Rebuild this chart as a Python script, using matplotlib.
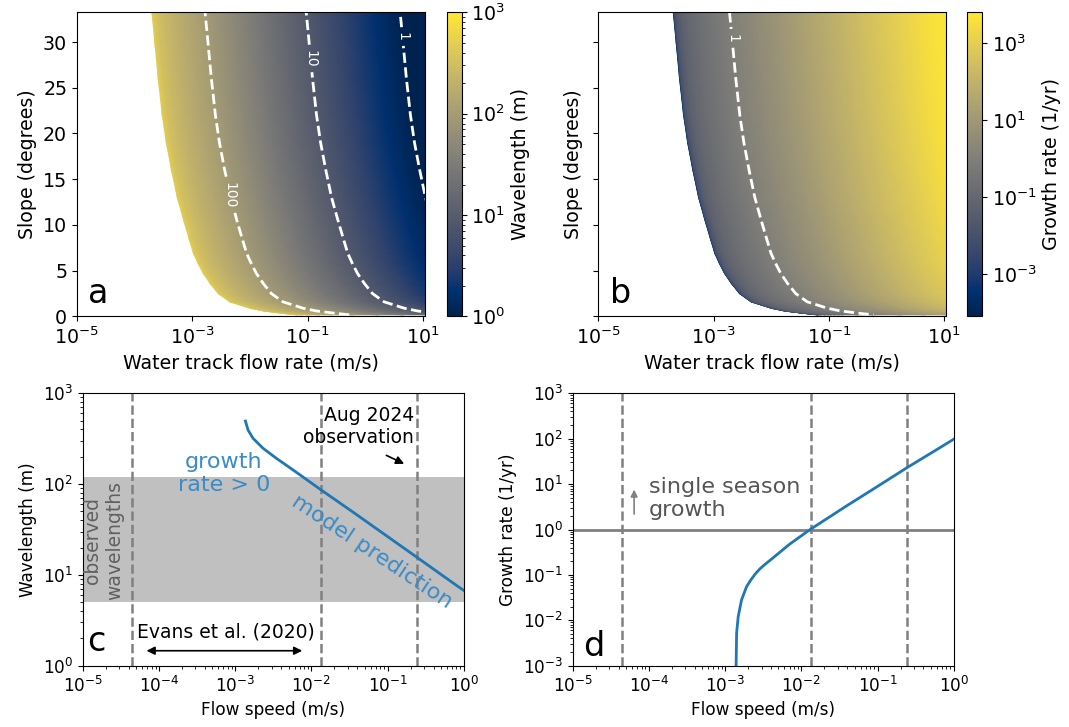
import numpy as np
import matplotlib
matplotlib.use('Agg')
import matplotlib.pyplot as plt
from matplotlib.colors import LogNorm
from matplotlib.ticker import NullLocator

# Values
#._____________________

# onset of the instability (left edge of coloured area in a/b)
slope_rows = [0.18, 0.35, 0.6, 0.9, 1.6, 2.5, 3.6, 4.7, 5.8, 6.9, 8.4, 10.5,
              13.0, 16.0, 19.0, 22.0, 26.0, 30.0, 33.25]
onset_flow = [6.3e-2, 3.55e-2, 1.70e-2, 1.0e-2, 4.47e-3, 2.82e-3, 2.04e-3, 1.55e-3,
              1.26e-3, 1.05e-3, 8.9e-4, 7.1e-4, 5.5e-4, 4.37e-4, 3.55e-4, 3.02e-4,
              2.57e-4, 2.24e-4, 2.0e-4]

# panel c : wavelength vs flow speed
wl_flow = [1.361e-3, 1.472e-3, 1.714e-3, 2.317e-3, 3.475e-3, 5.754e-3, 1.288e-2,
           3.532e-2, 9.705e-2, 0.2655, 0.847, 1.0]
wl_value = [495, 394, 319, 248, 192, 143, 88.3, 49.0, 26.9, 14.8, 7.41, 6.75]

# panel d : growth rate vs flow speed
gr_flow = [1.380e-3, 1.413e-3, 1.483e-3, 1.641e-3, 1.910e-3, 2.173e-3, 2.455e-3,
           2.851e-3, 3.319e-3, 3.864e-3, 7.063e-3, 1.303e-2, 3.917e-2, 0.1,
           0.2472, 0.6546, 1.0]
gr_value = [4e-4, 5.25e-3, 1.21e-2, 2.82e-2, 5.53e-2, 7.76e-2, 0.1026, 0.1355,
            0.1702, 0.2084, 0.4797, 1.0, 3.31, 8.91, 23.4, 63.1, 97.7]

# same slope, beyond x=1 (from the colours at the right of a/b)
ext_flow = [3.0, 10.0, 30.0, 80.0]
wl_ext = [3.5, 1.7, 0.89, 0.49]
gr_ext = [300., 1000., 3000., 8000.]

obs_flow = [4.4e-5, 1.33e-2, 0.245]   # dashed lines
obs_wavelength = [5, 120]             # grey band

# Fields for a/b : profile shifted to each row's onset
#._____________________

def field(flow, value, ext_value):
    ratio = np.r_[flow, ext_flow] / flow[0]
    X = np.outer(onset_flow, ratio)
    Y = np.repeat(np.array(slope_rows)[:, None], len(ratio), axis=1)
    C = np.tile(np.r_[value, ext_value], (len(slope_rows), 1))
    return X, Y, C

Xa, Ya, Ca = field(wl_flow, wl_value, wl_ext)
Xb, Yb, Cb = field(gr_flow, gr_value, gr_ext)

# PLOT
#._____________________
plt.rcParams['font.size'] = 12.2
fs_top = 13.7
blue_txt = '#3a8bc6'

fig = plt.figure(figsize=(10.69, 7.27), dpi=100)
ax_a = fig.add_axes([0.0719, 0.5647, 0.3256, 0.4184])
cax_a = fig.add_axes([0.4179, 0.5647, 0.0140, 0.4184])
ax_b = fig.add_axes([0.5597, 0.5647, 0.3253, 0.4184])
cax_b = fig.add_axes([0.9049, 0.5647, 0.0140, 0.4184])
ax_c = fig.add_axes([0.0775, 0.0843, 0.3564, 0.3747])
ax_d = fig.add_axes([0.5358, 0.0843, 0.3564, 0.3747])

# a
m_a = ax_a.pcolormesh(Xa, Ya, Ca, shading='gouraud', cmap='cividis',
                      norm=LogNorm(vmin=1, vmax=1000), rasterized=True)
cs = ax_a.contour(Xa, Ya, Ca, levels=[1, 10, 100], colors='white',
                  linestyles='--', linewidths=2)
ax_a.clabel(cs, fmt='%g', fontsize=10, inline=True,
            manual=[(10**-2.39, 13.3), (10**-1.02, 28.2), (10**0.72, 30.6)])
cb = fig.colorbar(m_a, cax=cax_a)
cb.set_label('Wavelength (m)', fontsize=fs_top)
cb.ax.tick_params(labelsize=fs_top)

# b
m_b = ax_b.pcolormesh(Xb, Yb, Cb, shading='gouraud', cmap='cividis',
                      norm=LogNorm(vmin=10**-4.1, vmax=10**3.8), rasterized=True)
cs = ax_b.contour(Xb, Yb, Cb, levels=[1], colors='white',
                  linestyles='--', linewidths=2)
ax_b.clabel(cs, fmt='%g', fontsize=10, inline=True, manual=[(10**-2.74, 30.4)])
cb = fig.colorbar(m_b, cax=cax_b)
cb.set_ticks([1e-3, 1e-1, 1e1, 1e3])
cb.ax.yaxis.set_minor_locator(NullLocator())
cb.set_label('Growth rate (1/yr)', fontsize=fs_top)
cb.ax.tick_params(labelsize=fs_top)

for ax, letter in [(ax_a, 'a'), (ax_b, 'b')]:
    ax.set_xscale('log')
    ax.set_xlim(1e-5, 10**1.033)
    ax.set_ylim(0, 33.25)
    ax.set_xticks([1e-5, 1e-3, 1e-1, 1e1])
    ax.xaxis.set_minor_locator(NullLocator())
    ax.set_yticks([0, 5, 10, 15, 20, 25, 30])
    ax.tick_params(labelsize=fs_top)
    ax.set_xlabel('Water track flow rate (m/s)', fontsize=fs_top)
    ax.set_ylabel('Slope (degrees)', fontsize=fs_top)
    ax.text(0.033, 0.076, letter, transform=ax.transAxes, fontsize=24,
            ha='left', va='center')
ax_b.set_yticklabels([])

# c
ax_c.axhspan(obs_wavelength[0], obs_wavelength[1], color='silver', lw=0, zorder=0)
for v in obs_flow:
    ax_c.axvline(v, color='gray', ls='--', lw=1.8)
ax_c.plot(wl_flow, wl_value, color='C0', lw=2)
ax_c.set_xscale('log')
ax_c.set_yscale('log')
ax_c.set_xlim(1e-5, 1)
ax_c.set_ylim(1, 1000)
ax_c.set_xticks([10.**k for k in range(-5, 1)])
ax_c.set_yticks([10.**k for k in range(0, 4)])
ax_c.set_xlabel('Flow speed (m/s)')
ax_c.set_ylabel('Wavelength (m)')
ax_c.text(10**-3.151, 10**2.114, 'growth\nrate > 0', color=blue_txt, fontsize=16,
          ha='center', va='center')
ax_c.text(10**-1.21, 10**1.256, 'model prediction', color=blue_txt, fontsize=16,
          rotation=-33.6, rotation_mode='anchor', ha='center', va='center')
ax_c.text(10**-4.73, 10**1.377, 'observed\nwavelengths', color='#606060', fontsize=13.5,
          rotation=90, ha='center', va='center')
ax_c.text(10**-0.657, 10**2.632, 'Aug 2024\nobservation', fontsize=13.5,
          ha='right', va='center')
ax_c.annotate('', xy=(10**-0.75, 10**2.21), xytext=(10**-1.05, 10**2.33),
              arrowprops=dict(arrowstyle='-|>', color='black', lw=1.2, mutation_scale=12))
ax_c.text(10**-4.292, 10**0.371, 'Evans et al. (2020)', fontsize=13.5,
          ha='left', va='center')
ax_c.annotate('', xy=(10**-2.084, 10**0.165), xytext=(10**-4.201, 10**0.165),
              arrowprops=dict(arrowstyle='<|-|>', color='black', lw=1.2, mutation_scale=12))
ax_c.text(0.012, 0.088, 'c', transform=ax_c.transAxes, fontsize=24,
          ha='left', va='center')

# d
ax_d.axhline(1, color='gray', lw=2)
for v in obs_flow:
    ax_d.axvline(v, color='gray', ls='--', lw=1.8)
ax_d.plot(gr_flow, gr_value, color='C0', lw=2)
ax_d.set_xscale('log')
ax_d.set_yscale('log')
ax_d.set_xlim(1e-5, 1)
ax_d.set_ylim(1e-3, 1e3)
ax_d.set_xticks([10.**k for k in range(-5, 1)])
ax_d.set_yticks([10.**k for k in range(-3, 4)])
ax_d.set_xlabel('Flow speed (m/s)')
ax_d.set_ylabel('Growth rate (1/yr)')
ax_d.text(10**-4.0, 10**0.686, 'single season\ngrowth', color='#555555', fontsize=16,
          ha='left', va='center')
ax_d.annotate('', xy=(10**-4.195, 10**0.941), xytext=(10**-4.195, 10**0.281),
              arrowprops=dict(arrowstyle='-|>', color='gray', lw=1.2, mutation_scale=10))
ax_d.text(0.028, 0.07, 'd', transform=ax_d.transAxes, fontsize=24,
          ha='left', va='center')

fig.savefig('out.png', dpi=100)
